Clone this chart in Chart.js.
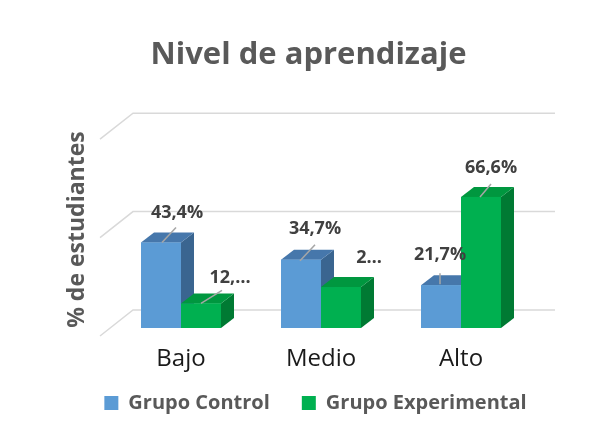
<!DOCTYPE html>
<html>
<head>
<meta charset="utf-8">
<script src="https://cdn.jsdelivr.net/npm/chart.js"></script>
<style>
  body { margin: 0; background: #fff; }
</style>
</head>
<body>
<canvas id="myChart" width="595" height="423"></canvas>
<script>
// datos
const categorias = ['Bajo', 'Medio', 'Alto'];
const grupoControl = [43.4, 34.7, 21.7];
const grupoExperimental = [12.5, 20.8, 66.6];
const marcasY = [0, 50, 100];

const FONT = '"Open Sans", sans-serif';

// profundidad de las barras 3D y del piso
const barDx = 13, barDy = 10;
const wallDx = 22, wallDy = 18, floorDx = 11, floorDy = 8;

const colores = [
  { front: '#5B9BD5', top: '#4677AB', side: '#3A6590' },
  { front: '#00B050', top: '#00973F', side: '#007A33' }
];

// posicion de las etiquetas respecto al tope de la barra
const etiquetas = [
  [ { dx: 16, dy: -30, l: [1, 0, 15, -15] },
    { dx: 14, dy: -31, l: [-1, 1, 14, -15] },
    { dx: -1, dy: -30, l: [-1, -1, -1, -12] } ],
  [ { dx: 29, dy: -26, l: [0, 0, 21, -13], corte: 3 },
    { dx: 28, dy: -29, corte: 1 },
    { dx: 10, dy: -29, l: [-1, 0, 10, -13] } ]
];

function texto(v, corte) {
  let t = v.toFixed(1).replace('.', ',') + '%';
  if (corte) t = t.slice(0, corte) + '…';
  return t;
}

const grid3d = {
  id: 'grid3d',
  afterLayout(chart) {
    // titulo y leyenda del original estan corridos a la derecha
    chart.titleBlock.left += 43;
    chart.titleBlock.right += 43;
    chart.legend.left += 50;
    chart.legend.right += 50;
    // que no se recorten las etiquetas del eje x
    chart.scales.x.bottom += 30;
  },
  beforeDatasetsDraw(chart) {
    const ctx = chart.ctx, y = chart.scales.y, a = chart.chartArea;
    ctx.save();
    ctx.strokeStyle = '#D9D9D9';
    ctx.lineWidth = 1.5;
    marcasY.forEach(v => {
      const yb = y.getPixelForValue(v) - wallDy;
      ctx.beginPath();
      ctx.moveTo(a.left - floorDx, yb + wallDy + floorDy);
      ctx.lineTo(a.left + wallDx, yb);
      ctx.lineTo(a.right + wallDx + 2, yb);
      ctx.stroke();
    });
    ctx.restore();
  },
  afterDatasetsDraw(chart) {
    const ctx = chart.ctx;
    ctx.save();
    categorias.forEach((c, i) => {
      chart.data.datasets.forEach((ds, d) => {
        const el = chart.getDatasetMeta(d).data[i];
        const l = el.x - el.width / 2, r = el.x + el.width / 2;
        const t = el.y, b = el.base;
        // lado
        ctx.fillStyle = colores[d].side;
        ctx.beginPath();
        ctx.moveTo(r, t); ctx.lineTo(r + barDx, t - barDy);
        ctx.lineTo(r + barDx, b - barDy); ctx.lineTo(r, b);
        ctx.closePath(); ctx.fill();
        // tapa
        ctx.fillStyle = colores[d].top;
        ctx.beginPath();
        ctx.moveTo(l, t); ctx.lineTo(r, t);
        ctx.lineTo(r + barDx, t - barDy); ctx.lineTo(l + barDx, t - barDy);
        ctx.closePath(); ctx.fill();
        // frente
        ctx.fillStyle = colores[d].front;
        ctx.fillRect(l, t, r - l, b - t);
      });
    });
    // etiquetas de datos
    ctx.font = 'bold 18px ' + FONT;
    ctx.textAlign = 'center';
    ctx.textBaseline = 'middle';
    chart.data.datasets.forEach((ds, d) => {
      const meta = chart.getDatasetMeta(d);
      ds.data.forEach((v, i) => {
        const el = meta.data[i], e = etiquetas[d][i];
        if (e.l) {
          ctx.strokeStyle = '#A6A6A6';
          ctx.lineWidth = 1.5;
          ctx.beginPath();
          ctx.moveTo(el.x + e.l[0], el.y + e.l[1]);
          ctx.lineTo(el.x + e.l[2], el.y + e.l[3]);
          ctx.stroke();
        }
        ctx.fillStyle = '#404040';
        ctx.fillText(texto(v, e.corte), el.x + e.dx, el.y + e.dy);
      });
    });
    ctx.restore();
  }
};

const ctx = document.getElementById('myChart');

new Chart(ctx, {
  type: 'bar',
  data: {
    labels: categorias,
    datasets: [
      { label: 'Grupo Control', data: grupoControl, backgroundColor: colores[0].front },
      { label: 'Grupo Experimental', data: grupoExperimental, backgroundColor: colores[1].front }
    ]
  },
  options: {
    responsive: false,
    animation: false,
    maintainAspectRatio: false,
    layout: { padding: { left: 0, right: 64, top: 0, bottom: 0 } },
    datasets: { bar: { categoryPercentage: 80 / 140, barPercentage: 1 } },
    scales: {
      x: {
        grid: { display: false, drawTicks: false },
        border: { display: false },
        ticks: { color: '#1a1a1a', font: { family: FONT, size: 24 }, padding: 17 },
        afterFit(s) { s.height = 33; }
      },
      y: {
        min: 0, max: 100,
        afterBuildTicks(s) { s.ticks = marcasY.map(v => ({ value: v })); },
        grid: { display: false },
        border: { display: false },
        ticks: { display: false },
        title: {
          display: true, text: '% de estudiantes', color: '#595959',
          font: { family: FONT, size: 23, weight: 'bold' },
          padding: { top: 64, bottom: 0 }
        },
        afterFit(s) { s.width = 111; }
      }
    },
    plugins: {
      title: {
        display: true, text: 'Nivel de aprendizaje', color: '#595959',
        font: { family: FONT, size: 31, weight: 'bold' },
        padding: { top: 37, bottom: 57 }
      },
      legend: {
        position: 'bottom',
        labels: {
          color: '#595959', boxWidth: 14, boxHeight: 14, padding: 32,
          font: { family: FONT, size: 20, weight: 'bold' }
        }
      },
      tooltip: { enabled: false }
    }
  },
  plugins: [grid3d]
});
</script>
</body>
</html>
